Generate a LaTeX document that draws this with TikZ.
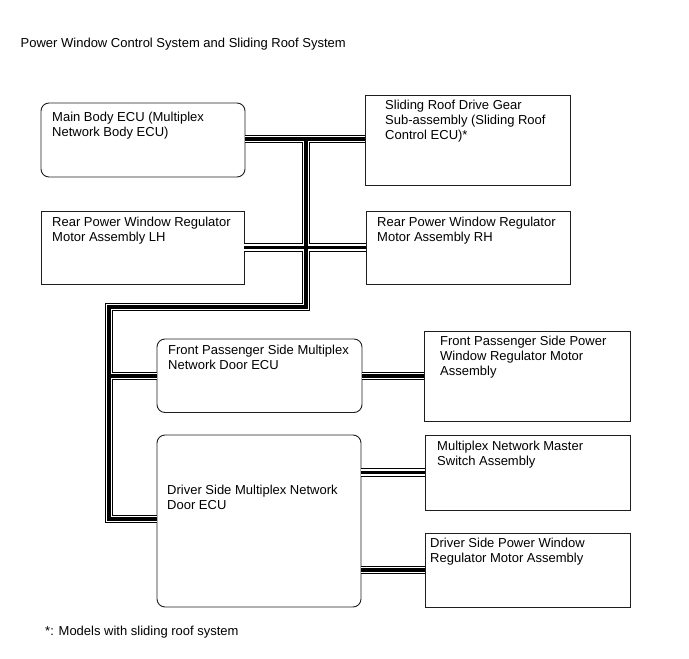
\documentclass[tikz,border=0pt]{standalone}
\usepackage{fontspec}
\setmainfont{Liberation Sans}
\usepackage{xcolor}
\usepackage{tikz}
\usetikzlibrary{calc}
\definecolor{boxline}{RGB}{30,30,30}

\begin{document}
\begin{tikzpicture}[
  x=1pt,y=-1pt,
  unit/.style={rectangle,draw=boxline,line width=0.9pt,inner sep=0pt,outer sep=0pt},
  ecu/.style={unit,rounded corners=8pt},
  txt/.style={anchor=base west,align=left,inner sep=0pt,
              font=\fontsize{13}{15.4}\selectfont}
]
\useasboundingbox (0,0) rectangle (689,659);

\node[txt] (title) at (20.5,47) {Power Window Control System and Sliding Roof System};

% boxes
\node[ecu,  minimum width=204pt,minimum height=74pt]   (main)  at (143,140)      {};
\node[unit, minimum width=205pt,minimum height=90.5pt] (roof)  at (467.5,140.25) {};
\node[unit, minimum width=203pt,minimum height=73pt]   (rlh)   at (142.5,247.5)  {};
\node[unit, minimum width=204pt,minimum height=73pt]   (rrh)   at (468,247.5)    {};
\node[ecu,  minimum width=205pt,minimum height=73.5pt] (fpecu) at (259.5,375.75) {};
\node[unit, minimum width=206pt,minimum height=90.5pt] (fpmot) at (527,376.25)   {};
\node[ecu,  minimum width=204pt,minimum height=172pt]  (drv)   at (259,521)      {};
\node[unit, minimum width=205pt,minimum height=75pt]   (msw)   at (527.5,472.5)  {};
\node[unit, minimum width=205pt,minimum height=74pt]   (dmot)  at (527.5,570)    {};

% texts (anchored at the baseline of the last line)
\node[txt] (mainT)  at ($(main.north west)+(11,33.9)$)  {Main Body ECU (Multiplex\\Network Body ECU)};
\node[txt] (roofT)  at ($(roof.north west)+(20,44.8)$)  {Sliding Roof Drive Gear\\Sub-assembly (Sliding Roof\\Control ECU)*};
\node[txt] (rlhT)   at ($(rlh.north west)+(11,30.4)$)   {Rear Power Window Regulator\\Motor Assembly LH};
\node[txt] (rrhT)   at ($(rrh.north west)+(11,30.4)$)   {Rear Power Window Regulator\\Motor Assembly RH};
\node[txt] (fpecuT) at ($(fpecu.north west)+(11,30.7)$) {Front Passenger Side Multiplex\\Network Door ECU};
\node[txt] (fpmotT) at ($(fpmot.north west)+(16,44.8)$) {Front Passenger Side Power\\Window Regulator Motor\\Assembly};
\node[txt] (drvT)   at ($(drv.north west)+(10,74.4)$)   {Driver Side Multiplex Network\\Door ECU};
\node[txt] (mswT)   at ($(msw.north west)+(12,30.4)$)   {Multiplex Network Master\\Switch Assembly};
\node[txt] (dmotT)  at ($(dmot.north west)+(5,29.4)$)   {Driver Side Power Window\\Regulator Motor Assembly};

\node[txt] (note) at (45,635) {*: Models with sliding roof system};

% bus junctions
\coordinate (jtop)  at (306,139);
\coordinate (jbend) at (306,307);
\coordinate (jleft) at (109,307);
\coordinate (jlow)  at (109,519);

% bus lines: outline, gap, core
\foreach \w/\c in {8.5/black,6.3/white,3.6/black}{
  \draw[line width=\w pt,\c] (main.east |- jtop) -- (roof.west |- jtop);
  \draw[line width=\w pt,\c] (rlh.east) -- (rrh.west);
  \draw[line width=\w pt,\c,line join=miter] (jtop) -- (jbend) -- (jleft) -- (jlow) -- (drv.west |- jlow);
  \draw[line width=\w pt,\c] (jleft |- fpecu.west) -- (fpecu.west);
  \draw[line width=\w pt,\c] (fpecu.east) -- (fpmot.west |- fpecu.east);
  \draw[line width=\w pt,\c] (drv.east |- msw.west) -- (msw.west);
  \draw[line width=\w pt,\c] (drv.east |- dmot.west) -- (dmot.west);
}
\end{tikzpicture}
\end{document}
